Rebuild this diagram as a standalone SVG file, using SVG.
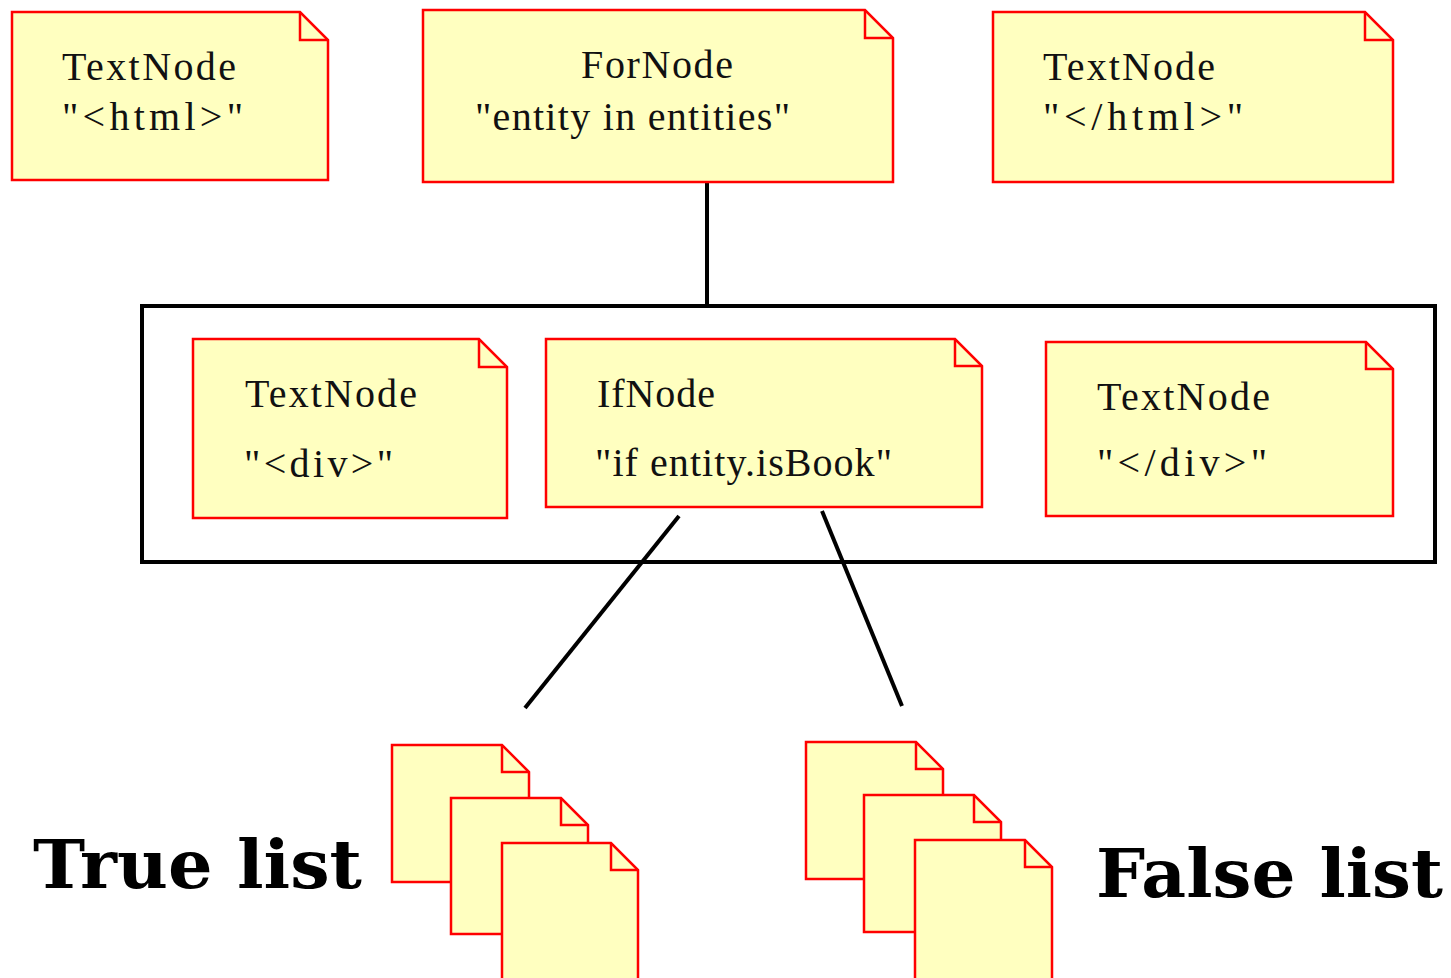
<svg xmlns="http://www.w3.org/2000/svg" width="1451" height="978" viewBox="0 0 1451 978">
<style>
.note{fill:#ffffc0;stroke:#ff0000;stroke-width:2.5;stroke-linejoin:miter}
.fold{fill:none;stroke:#ff0000;stroke-width:2.5}
.t{font-family:"Liberation Serif","Times New Roman",serif;font-size:40px;fill:#111}
.big{font-family:"DejaVu Serif",serif;font-weight:bold;font-size:68px;fill:#000}
.conn{stroke:#000;stroke-width:4;fill:none}
</style>
<rect width="1451" height="978" fill="#fff"/>
<g id="connectors">
<line class="conn" x1="707" y1="183" x2="707" y2="306"/>
<line class="conn" x1="679" y1="516" x2="525" y2="708"/>
<line class="conn" x1="822" y1="511" x2="902" y2="706"/>
</g>
<g id="container">
<rect x="142" y="306" width="1293" height="256" fill="none" stroke="#000" stroke-width="4"/>
</g>
<g id="textnode-html">
<path class="note" d="M12,12 H300 L328,40 V180 H12 Z"/>
<path class="fold" d="M300,12 V40 H328"/>
<text class="t" x="62" y="80" textLength="174" lengthAdjust="spacing">TextNode</text>
<text class="t" x="62" y="130" textLength="181" lengthAdjust="spacing">"&lt;html&gt;"</text>
</g>
<g id="fornode">
<path class="note" d="M423,10 H865 L893,38 V182 H423 Z"/>
<path class="fold" d="M865,10 V38 H893"/>
<text class="t" x="581" y="78" textLength="152" lengthAdjust="spacing">ForNode</text>
<text class="t" x="475" y="130" textLength="315" lengthAdjust="spacing">"entity in entities"</text>
</g>
<g id="textnode-close-html">
<path class="note" d="M993,12 H1365 L1393,40 V182 H993 Z"/>
<path class="fold" d="M1365,12 V40 H1393"/>
<text class="t" x="1043" y="80" textLength="172" lengthAdjust="spacing">TextNode</text>
<text class="t" x="1043" y="130" textLength="200" lengthAdjust="spacing">"&lt;/html&gt;"</text>
</g>
<g id="textnode-div">
<path class="note" d="M193,339 H479 L507,367 V518 H193 Z"/>
<path class="fold" d="M479,339 V367 H507"/>
<text class="t" x="245" y="407" textLength="172" lengthAdjust="spacing">TextNode</text>
<text class="t" x="244" y="477" textLength="149" lengthAdjust="spacing">"&lt;div&gt;"</text>
</g>
<g id="ifnode">
<path class="note" d="M546,339 H955 L982,366 V507 H546 Z"/>
<path class="fold" d="M955,339 V366 H982"/>
<text class="t" x="597" y="407" textLength="118" lengthAdjust="spacing">IfNode</text>
<text class="t" x="595" y="476" textLength="297" lengthAdjust="spacing">"if entity.isBook"</text>
</g>
<g id="textnode-close-div">
<path class="note" d="M1046,342 H1366 L1393,369 V516 H1046 Z"/>
<path class="fold" d="M1366,342 V369 H1393"/>
<text class="t" x="1097" y="410" textLength="173" lengthAdjust="spacing">TextNode</text>
<text class="t" x="1097" y="476" textLength="170" lengthAdjust="spacing">"&lt;/div&gt;"</text>
</g>
<g id="true-list">
<path class="note" d="M392,745 H502 L529,772 V882 H392 Z"/>
<path class="fold" d="M502,745 V772 H529"/>
<path class="note" d="M451,798 H561 L588,825 V934 H451 Z"/>
<path class="fold" d="M561,798 V825 H588"/>
<path class="note" d="M502,843 H611 L638,870 V990 H502 Z"/>
<path class="fold" d="M611,843 V870 H638"/>
<text class="big" x="33" y="888" textLength="329" lengthAdjust="spacingAndGlyphs">True list</text>
</g>
<g id="false-list">
<path class="note" d="M806,742 H916 L943,769 V879 H806 Z"/>
<path class="fold" d="M916,742 V769 H943"/>
<path class="note" d="M864,795 H974 L1001,822 V932 H864 Z"/>
<path class="fold" d="M974,795 V822 H1001"/>
<path class="note" d="M915,840 H1025 L1052,867 V990 H915 Z"/>
<path class="fold" d="M1025,840 V867 H1052"/>
<text class="big" x="1096" y="897" textLength="347" lengthAdjust="spacingAndGlyphs">False list</text>
</g>
</svg>
